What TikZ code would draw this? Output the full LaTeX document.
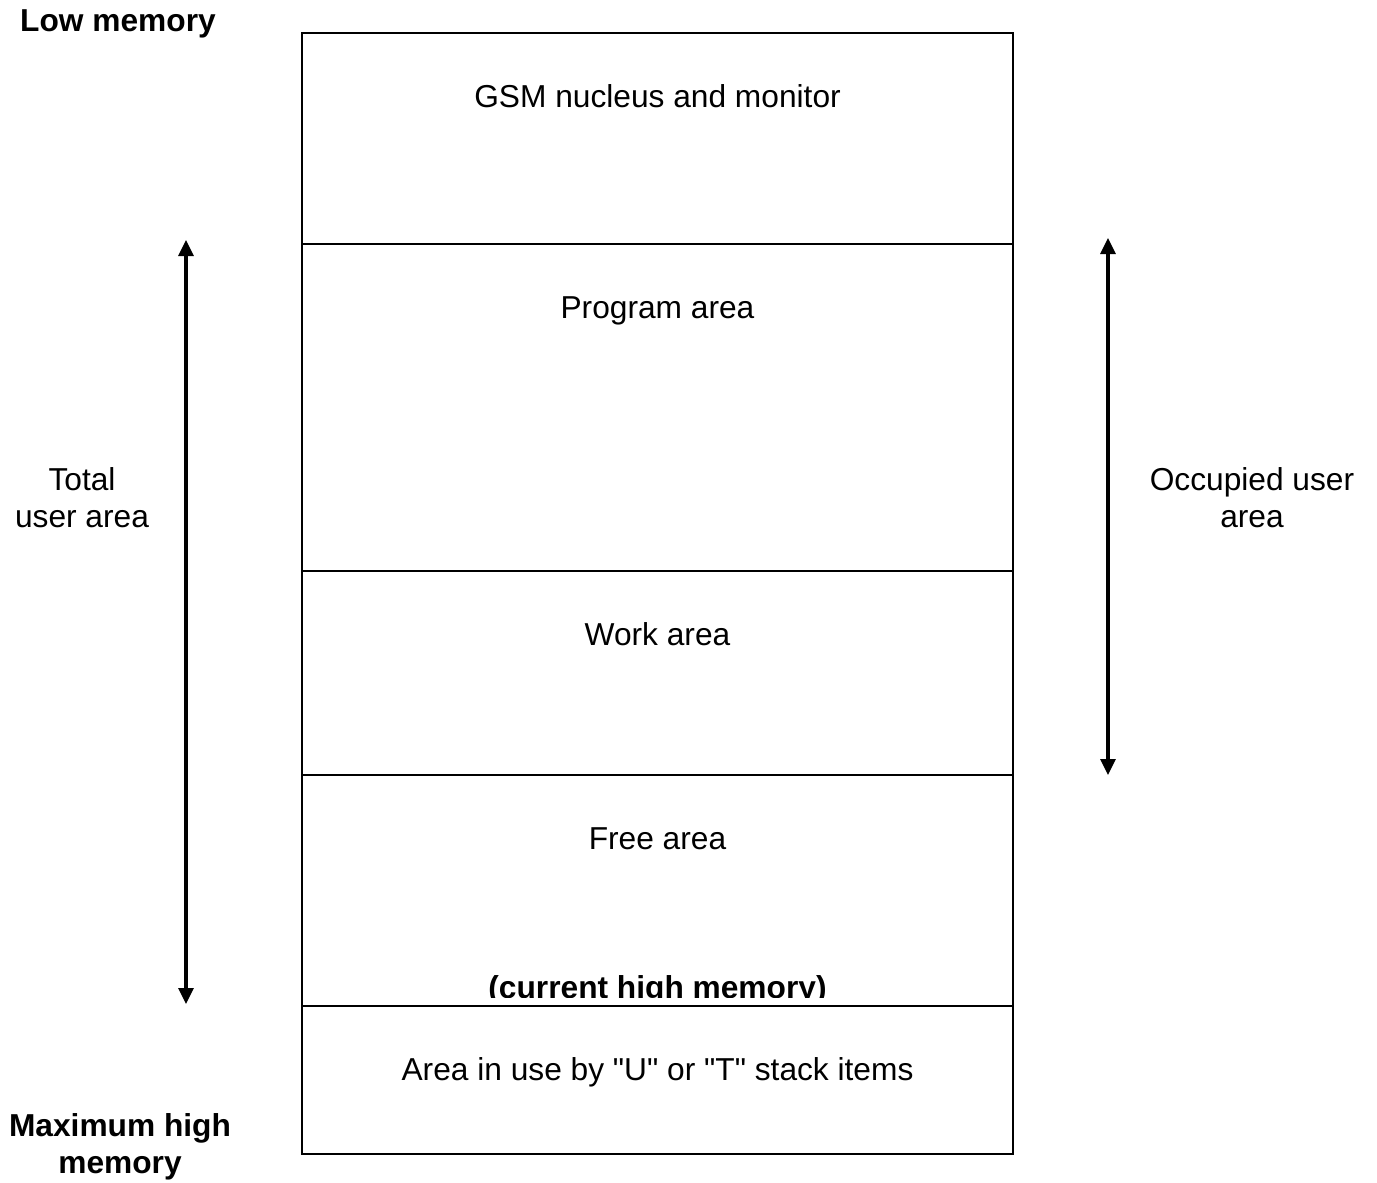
\documentclass[tikz,border=0pt]{standalone}
\usepackage{fontspec}
\setmainfont{Liberation Sans}
\usetikzlibrary{arrows.meta,positioning}

\begin{document}
\begin{tikzpicture}[
  x=0.5pt, y=-0.5pt,
  area/.style={rectangle, draw, line width=0.8pt, outer sep=0pt, minimum width=355.5pt},
  txt/.style={font=\fontsize{15.85}{18.5}\selectfont, align=center},
  boldtxt/.style={font=\fontsize{15.85}{18.5}\selectfont\bfseries, align=center},
  span/.style={{Triangle[length=8pt,width=7.5pt]}-{Triangle[length=8pt,width=7.5pt]}, line width=1.6pt}
]
\useasboundingbox (0,0) rectangle (1377,1183);

% memory map, top to bottom
\node[area, minimum height=105.5pt] (gsm) at (657.5,138.5) {};
\node[area, minimum height=163.5pt, below=0pt of gsm] (prog) {};
\node[area, minimum height=102pt, below=0pt of prog] (work) {};
\node[area, minimum height=115.5pt, below=0pt of work] (free) {};
\node[area, minimum height=74pt, below=0pt of free] (stack) {};

\node[txt, anchor=base] (gsmtxt) at ([yshift=-37pt]gsm.north) {GSM nucleus and monitor};
\node[txt, anchor=base] (progtxt) at ([yshift=-37pt]prog.north) {Program area};
\node[txt, anchor=base] (worktxt) at ([yshift=-37pt]work.north) {Work area};
\node[txt, anchor=base] (freetxt) at ([yshift=-37pt]free.north) {Free area};
\node[txt, anchor=base] (stacktxt) at ([yshift=-37pt]stack.north)
  {Area in use by \textquotedbl U\textquotedbl{} or \textquotedbl T\textquotedbl{} stack items};

% label sits on the boundary, cut off at the bottom
\begin{scope}
  \clip (free.north west) rectangle ([yshift=4.5pt]free.south east);
  \node[boldtxt, anchor=base] (hightxt) at ([yshift=4pt]free.south) {(current high memory)};
\end{scope}

% ends of memory
\node[boldtxt, anchor=base] (low) at (118,32) {Low memory};
\node[boldtxt] (high) at (120,1147) {Maximum high\\memory};

% extents of the user area
\coordinate (totaltop) at (186,240);
\coordinate (totalbot) at (186,1004);
\coordinate (occtop) at (1108,238);
\coordinate (occbot) at (1108,775);
\draw[span] (totaltop) -- (totalbot);
\draw[span] (occtop) -- (occbot);
\node[txt] (total) at (82,498) {Total\\user area};
\node[txt] (occupied) at (1252,498) {Occupied user\\area};
\end{tikzpicture}
\end{document}
